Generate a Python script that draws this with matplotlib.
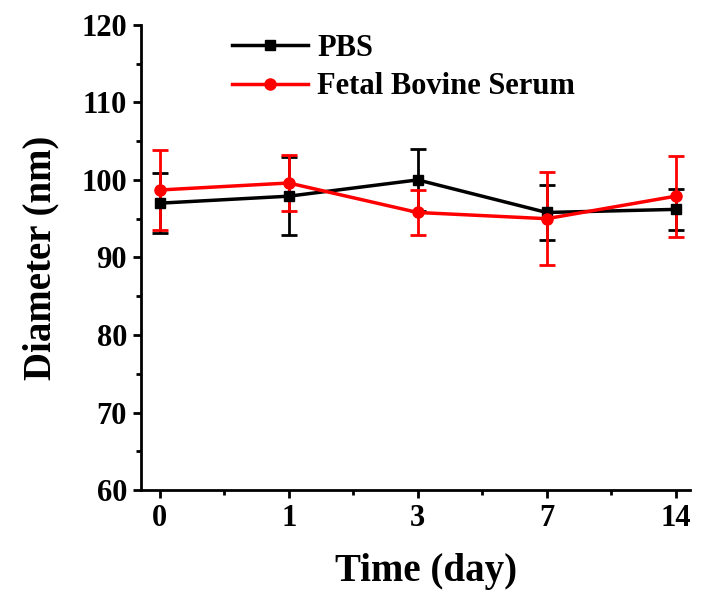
import matplotlib
matplotlib.use("Agg")
import matplotlib.pyplot as plt
from matplotlib.ticker import MultipleLocator, AutoMinorLocator

# data
days = ["0", "1", "3", "7", "14"]
pbs_mean = [97.0, 97.9, 100.0, 95.8, 96.2]
pbs_err = [3.9, 5.0, 4.0, 3.5, 2.6]
fbs_mean = [98.7, 99.6, 95.8, 95.0, 97.9]
fbs_err = [5.1, 3.6, 2.9, 6.0, 5.2]

plt.rcParams['font.family'] = ['Liberation Serif', 'DejaVu Serif']
plt.rcParams['font.weight'] = 'bold'

fig = plt.figure(figsize=(7.01, 6.03), dpi=100)
ax = fig.add_axes([0.201, 0.187, 0.783, 0.772])

x = list(range(len(days)))

# error bars first, lines on top
ax.errorbar(x, pbs_mean, yerr=pbs_err, fmt='none', ecolor='black',
            elinewidth=2, capsize=6, capthick=2, zorder=2)
ax.errorbar(x, fbs_mean, yerr=fbs_err, fmt='none', ecolor='red',
            elinewidth=2, capsize=6, capthick=2, zorder=3)
ax.plot(x, pbs_mean, color='black', marker='s', markersize=7, lw=2.5,
        label='PBS', zorder=4)
ax.plot(x, fbs_mean, color='red', marker='o', markersize=8, lw=2.5,
        label='Fetal Bovine Serum', zorder=5)

ax.set_xlim(-0.147, 4.11)
ax.set_ylim(60, 120)
ax.set_xticks(x)
ax.set_xticklabels(days)
ax.xaxis.set_minor_locator(MultipleLocator(0.5))
ax.yaxis.set_major_locator(MultipleLocator(10))
ax.yaxis.set_minor_locator(AutoMinorLocator(2))

for side in ['top', 'right']:
    ax.spines[side].set_visible(False)
for side in ['left', 'bottom']:
    ax.spines[side].set_linewidth(2)

ax.tick_params(which='major', direction='out', length=6, width=2,
               labelsize=22, pad=4)
ax.tick_params(which='minor', direction='out', length=3.5, width=2)

ax.set_xlabel('Time (day)', fontsize=28, fontweight='bold', labelpad=18)
ax.set_ylabel('Diameter (nm)', fontsize=28, fontweight='bold', labelpad=16)
ax.xaxis.set_label_coords(0.52, -0.135)

ax.legend(loc='upper left', bbox_to_anchor=(0.115, 1.04), frameon=False,
          handlelength=2.5, handletextpad=0.3,
          labelspacing=0.32, prop={'weight': 'bold', 'size': 22})

fig.savefig("out.png", dpi=100)
